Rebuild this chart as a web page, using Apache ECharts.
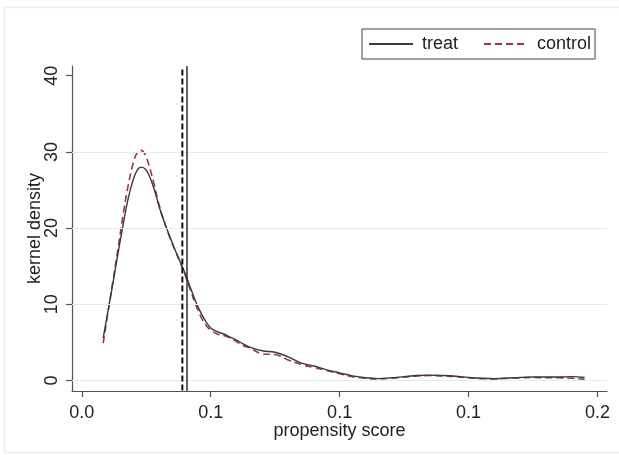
<!DOCTYPE html>
<html>
<head>
<meta charset="utf-8">
<script src="https://cdn.jsdelivr.net/npm/echarts@6/dist/echarts.min.js"></script>
<style>
    html, body { margin: 0; padding: 0; background: #fff; }
    #chart { width: 619px; height: 455px; }
</style>
</head>
<body>
<div id="chart"></div>
<script>
// propensity score grid and kernel density estimates
var scoreX = [0.0083, 0.0100, 0.0120, 0.0140, 0.0160, 0.0180, 0.0200, 0.0215, 0.0230, 0.0245,
    0.0260, 0.0280, 0.0300, 0.0320, 0.0340, 0.0360, 0.0380, 0.0400, 0.0420, 0.0440,
    0.0460, 0.0480, 0.0500, 0.0525, 0.0550, 0.0575, 0.0600, 0.0625, 0.0650, 0.0700,
    0.0750, 0.0800, 0.0850, 0.0900, 0.0950, 0.1000, 0.1050, 0.1100, 0.1150, 0.1200,
    0.1250, 0.1300, 0.1350, 0.1400, 0.1450, 0.1500, 0.1550, 0.1600, 0.1650, 0.1700,
    0.1750, 0.1800, 0.1850, 0.1900, 0.1950];
var treatDensity = [5.6, 8.8, 12.6, 16.6, 20.4, 23.9, 26.4, 27.6, 28.0, 27.8,
    27.0, 25.2, 22.8, 20.8, 19.0, 17.3, 15.7, 14.1, 12.3, 10.5,
    9.0, 7.8, 6.9, 6.4, 6.1, 5.7, 5.3, 4.8, 4.4, 3.9,
    3.7, 3.1, 2.3, 1.9, 1.4, 1.0, 0.6, 0.35, 0.25, 0.35,
    0.5, 0.65, 0.7, 0.65, 0.55, 0.4, 0.3, 0.25, 0.3, 0.4,
    0.45, 0.45, 0.45, 0.5, 0.4];
var controlDensity = [4.9, 8.6, 12.9, 17.2, 21.7, 25.6, 28.6, 29.9, 30.2, 29.7,
    28.3, 25.8, 23.0, 20.8, 18.9, 17.2, 15.6, 13.9, 12.0, 10.1,
    8.5, 7.3, 6.6, 6.1, 5.9, 5.6, 5.1, 4.6, 4.3, 3.5,
    3.4, 2.7, 2.1, 1.7, 1.3, 0.9, 0.5, 0.3, 0.2, 0.3,
    0.45, 0.6, 0.65, 0.6, 0.5, 0.35, 0.25, 0.2, 0.3, 0.35,
    0.4, 0.35, 0.35, 0.3, 0.15];

var xTickValues = [0, 0.05, 0.1, 0.15, 0.2];
var xTickLabels = ['0.0', '0.1', '0.1', '0.1', '0.2'];
var yTickValues = [0, 10, 20, 30, 40];
var yTickLabels = ['0', '10', '20', '30', '40'];
var gridValues = [0, 10, 20, 30];
var treatMean = 0.0408;   // solid vertical line
var controlMean = 0.0390; // dashed vertical line

var xMin = -0.0038, xMax = 0.2037;
var yMin = -1.38, yMax = 41.27;

var chart = echarts.init(document.getElementById('chart'));
var font = 'Liberation Sans, Arial, sans-serif';
var axisColor = '#555';

function pairs(ys) {
    return scoreX.map(function (x, i) { return [x, ys[i]]; });
}

var option = {
    animation: false,
    backgroundColor: '#fff',
    textStyle: { fontFamily: font },
    graphic: [{
        type: 'rect',
        shape: { x: 4.5, y: 7.5, width: 620, height: 445 },
        style: { fill: 'none', stroke: '#e8f0f2', lineWidth: 1.5 },
        silent: true
    }],
    legend: {
        data: ['treat', 'control'],
        left: 362,
        top: 29,
        orient: 'horizontal',
        padding: [6, 4, 6, 6],
        itemGap: 25,
        itemWidth: 44,
        itemHeight: 14,
        borderColor: '#444',
        borderWidth: 1,
        itemStyle: { opacity: 0 },
        textStyle: { fontSize: 18, color: '#222', fontFamily: font, padding: [0, 0, 0, 4] }
    },
    grid: { left: 72, right: 12, top: 66, bottom: 64, containLabel: false },
    xAxis: {
        type: 'value',
        min: xMin,
        max: xMax,
        name: 'propensity score',
        nameLocation: 'middle',
        nameGap: 31,
        nameMoveOverlap: false,
        nameTextStyle: { fontSize: 18, color: '#222' },
        axisLine: { show: true, onZero: false, lineStyle: { color: axisColor, width: 1.2 } },
        axisTick: { show: true, length: 6, customValues: xTickValues, lineStyle: { color: axisColor, width: 1.2 } },
        axisLabel: {
            customValues: xTickValues,
            margin: 13,
            fontSize: 18,
            color: '#222',
            formatter: function (v) {
                var i = xTickValues.indexOf(v);
                return i >= 0 ? xTickLabels[i] : '';
            }
        },
        splitLine: { show: false }
    },
    yAxis: {
        type: 'value',
        min: yMin,
        max: yMax,
        name: 'kernel density',
        nameLocation: 'middle',
        nameGap: 28,
        nameMoveOverlap: false,
        nameRotate: 90,
        nameTextStyle: { fontSize: 18, color: '#222' },
        axisLine: { show: true, onZero: false, lineStyle: { color: axisColor, width: 1.2 } },
        axisTick: { show: true, length: 6, customValues: yTickValues, lineStyle: { color: axisColor, width: 1.2 } },
        axisLabel: {
            customValues: yTickValues,
            rotate: 90,
            margin: 11,
            fontSize: 18,
            color: '#222',
            formatter: function (v) {
                var i = yTickValues.indexOf(v);
                return i >= 0 ? yTickLabels[i] : '';
            }
        },
        splitLine: { show: false }
    },
    series: [
        {
            name: 'grid',
            type: 'line',
            data: [],
            z: 1,
            silent: true,
            markLine: {
                silent: true,
                symbol: 'none',
                label: { show: false },
                lineStyle: { color: '#e2edf0', width: 1, type: 'solid' },
                data: gridValues.map(function (v) { return { yAxis: v }; })
            }
        },
        {
            name: 'treat',
            type: 'line',
            data: pairs(treatDensity),
            smooth: 0.4,
            symbol: 'none',
            z: 4,
            lineStyle: { color: '#3a3a3a', width: 1.4, type: 'solid' },
            itemStyle: { color: '#3a3a3a' }
        },
        {
            name: 'control',
            type: 'line',
            data: pairs(controlDensity),
            smooth: 0.4,
            symbol: 'none',
            z: 3,
            lineStyle: { color: '#98393f', width: 1.6, type: [7, 4] },
            itemStyle: { color: '#98393f' }
        },
        {
            name: 'controlMean',
            type: 'line',
            data: [[controlMean, 40.8], [controlMean, yMin]],
            symbol: 'none',
            silent: true,
            z: 5,
            lineStyle: { color: '#111', width: 2, type: [6, 3] }
        },
        {
            name: 'treatMean',
            type: 'line',
            data: [[treatMean, yMax], [treatMean, yMin]],
            symbol: 'none',
            silent: true,
            z: 5,
            lineStyle: { color: '#222', width: 1.4, type: 'solid' }
        }
    ]
};
chart.setOption(option, true);
window.onresize = function () {
    chart.resize();
};
</script>
</body>
</html>
